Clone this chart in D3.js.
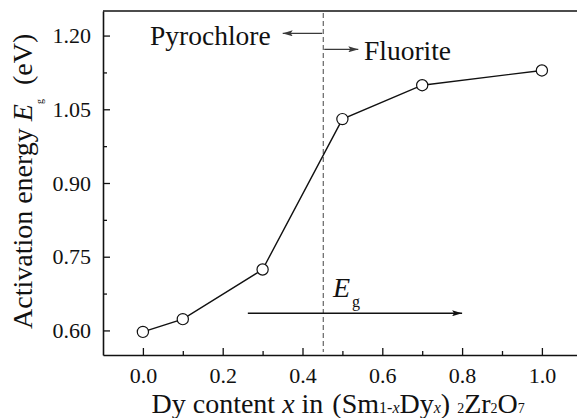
<!DOCTYPE html>
<html>
<head>
<meta charset="utf-8">
<script src="https://cdn.jsdelivr.net/npm/d3@7"></script>
<style>
  html, body { margin: 0; padding: 0; background: #fff; }
  svg { display: block; font-family: "Liberation Serif", "Times New Roman", serif; }
  text { white-space: pre; }
</style>
</head>
<body>
<svg id="chart" width="577" height="418"></svg>
<script>
// Dy content x in (Sm1-xDyx)2Zr2O7 and the measured activation energy Eg (eV)
const dyContent = [0, 0.1, 0.3, 0.5, 0.7, 1.0];
const activationEnergy = [0.597, 0.623, 0.724, 1.030, 1.099, 1.129];

const xTickValues = [0, 0.2, 0.4, 0.6, 0.8, 1.0];
const xMinorTicks = [0.1, 0.3, 0.5, 0.7, 0.9];
const yTickValues = [0.60, 0.75, 0.90, 1.05, 1.20];
const yMinorTicks = [0.675, 0.825, 0.975, 1.125];

// Pyrochlore / fluorite phase boundary and the Eg arrow
const phaseBoundary = 0.452;
const egArrow = { from: 0.263, to: 0.8, level: 0.635 };

const svg = d3.select("#chart");
const margin = { left: 103, top: 11, bottom: 355 };

const x = d3.scaleLinear().domain([-0.1, 1.1]).range([margin.left, margin.left + 478.8]);
const y = d3.scaleLinear().domain([0.55, 1.25]).range([margin.bottom, margin.top]);

// Arrowheads
const defs = svg.append("defs");
function arrowMarker(id, color) {
  defs.append("marker")
    .attr("id", id)
    .attr("viewBox", "0 0 10 6")
    .attr("refX", 10).attr("refY", 3)
    .attr("markerUnits", "userSpaceOnUse")
    .attr("markerWidth", 10).attr("markerHeight", 6)
    .attr("orient", "auto")
    .append("path")
    .attr("d", "M0,0 L10,3 L0,6 L2,3 Z")
    .attr("fill", color);
}
arrowMarker("headDark", "#111");
arrowMarker("headGrey", "#3a3a3a");

// Axes
const xAxis = d3.axisBottom(x).tickValues(xTickValues).tickSize(-7).tickSizeOuter(0)
  .tickPadding(12.5).tickFormat(d3.format(".1f"));
const yAxis = d3.axisLeft(y).tickValues(yTickValues).tickSize(-7).tickSizeOuter(0)
  .tickPadding(12).tickFormat(d3.format(".2f"));

const gx = svg.append("g").attr("transform", `translate(0,${margin.bottom})`).call(xAxis);
const gy = svg.append("g").attr("transform", `translate(${margin.left},0)`).call(yAxis);

[gx, gy].forEach(g => {
  g.select(".domain").attr("stroke", "#111").attr("stroke-width", 1.6);
  g.selectAll(".tick line").attr("stroke", "#111").attr("stroke-width", 1.3);
  g.selectAll(".tick text").attr("fill", "#111")
    .style("font-family", "'Liberation Serif', 'Times New Roman', serif")
    .style("font-size", "22px");
});

// Minor ticks
const gxm = svg.append("g").attr("transform", `translate(0,${margin.bottom})`)
  .call(d3.axisBottom(x).tickValues(xMinorTicks).tickSize(-4).tickFormat(""));
const gym = svg.append("g").attr("transform", `translate(${margin.left},0)`)
  .call(d3.axisLeft(y).tickValues(yMinorTicks).tickSize(-4).tickFormat(""));
[gxm, gym].forEach(g => {
  g.select(".domain").remove();
  g.selectAll(".tick line").attr("stroke", "#111").attr("stroke-width", 1.3);
});

// Top frame line
svg.append("line")
  .attr("x1", x(-0.1)).attr("x2", x(1.1))
  .attr("y1", y(1.25)).attr("y2", y(1.25))
  .attr("stroke", "#111").attr("stroke-width", 1.6);

// Phase boundary (dashed)
svg.append("line")
  .attr("x1", x(phaseBoundary)).attr("x2", x(phaseBoundary))
  .attr("y1", y(1.25) + 2).attr("y2", y(0.55) - 3)
  .attr("stroke", "#444").attr("stroke-width", 1)
  .attr("stroke-dasharray", "5,3");

// Phase arrows and labels
svg.append("line")
  .attr("x1", x(phaseBoundary) - 1).attr("x2", 282.7)
  .attr("y1", 33.3).attr("y2", 33.3)
  .attr("stroke", "#3a3a3a").attr("stroke-width", 1.3)
  .attr("marker-end", "url(#headGrey)");
svg.append("line")
  .attr("x1", x(phaseBoundary) + 1).attr("x2", 358.3)
  .attr("y1", 49.3).attr("y2", 49.3)
  .attr("stroke", "#3a3a3a").attr("stroke-width", 1.3)
  .attr("marker-end", "url(#headGrey)");

svg.append("text").attr("x", 150).attr("y", 45)
  .attr("fill", "#111").style("font-size", "27.5px").text("Pyrochlore");
svg.append("text").attr("x", 364).attr("y", 60)
  .attr("fill", "#111").style("font-size", "27.5px").text("Fluorite");

// Eg arrow and label
svg.append("line")
  .attr("x1", x(egArrow.from)).attr("x2", x(egArrow.to))
  .attr("y1", y(egArrow.level)).attr("y2", y(egArrow.level))
  .attr("stroke", "#111").attr("stroke-width", 1.3)
  .attr("marker-end", "url(#headDark)");
const egLabel = svg.append("text").attr("x", 333).attr("y", 296.7).attr("fill", "#111");
egLabel.append("tspan").style("font-size", "28px").style("font-style", "italic").text("E");
egLabel.append("tspan").attr("dx", 2).attr("dy", 10.5).style("font-size", "16px").text("g");

// Data line and markers
const pts = dyContent.map((d, i) => [d, activationEnergy[i]]);
svg.append("path")
  .datum(pts)
  .attr("fill", "none").attr("stroke", "#111").attr("stroke-width", 1.4)
  .attr("d", d3.line().x(d => x(d[0])).y(d => y(d[1])));
svg.selectAll("circle.pt").data(pts).join("circle")
  .attr("class", "pt")
  .attr("cx", d => x(d[0])).attr("cy", d => y(d[1]))
  .attr("r", 5.6)
  .attr("fill", "#fff").attr("stroke", "#111").attr("stroke-width", 1.2);

// X axis title
const xt = svg.append("text").attr("x", 151.5).attr("y", 413).attr("fill", "#111").style("font-size", "28px");
xt.append("tspan").text("Dy content ");
xt.append("tspan").style("font-style", "italic").text("x");
xt.append("tspan").text(" in ");
xt.append("tspan").attr("dx", 2).text("(Sm");
xt.append("tspan").style("font-size", "16px").text("1-");
xt.append("tspan").style("font-size", "16px").style("font-style", "italic").text("x");
xt.append("tspan").text("Dy");
xt.append("tspan").style("font-size", "16px").style("font-style", "italic").text("x");
xt.append("tspan").text(") ");
xt.append("tspan").style("font-size", "14px").text("2");
xt.append("tspan").text("Zr");
xt.append("tspan").style("font-size", "14px").text("2");
xt.append("tspan").text("O");
xt.append("tspan").style("font-size", "14px").text("7");

// Y axis title
const yt = svg.append("text")
  .attr("transform", "translate(32,329) rotate(-90)")
  .attr("fill", "#111").style("font-size", "28px");
yt.append("tspan").text("Activation energy ");
yt.append("tspan").style("font-style", "italic").text("E");
yt.append("tspan").attr("dy", 11).style("font-size", "10px").text("g");
yt.append("tspan").attr("dy", -11).text("  (eV)");
</script>
</body>
</html>
